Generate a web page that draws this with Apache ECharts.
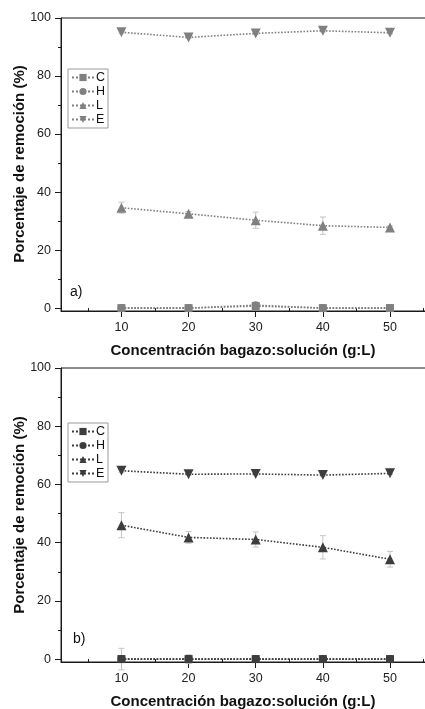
<!DOCTYPE html>
<html>
<head>
<meta charset="utf-8">
<script src="https://cdn.jsdelivr.net/npm/echarts@6/dist/echarts.min.js"></script>
<style>html,body{margin:0;padding:0;background:#fff}#c{width:425px;height:709px}</style>
</head>
<body>
<div id="c"></div>
<script>
const xVals = [10, 20, 30, 40, 50];
const yTicks = [0, 20, 40, 60, 80, 100];
const yMinor = [10, 30, 50, 70, 90];
const xTicks = [10, 20, 30, 40, 50];
const xMinor = [5, 15, 25, 35, 45, 55];
const yTitle = 'Porcentaje de remoción (%)';
const xTitle = 'Concentración bagazo:solución (g:L)';

// Panel a)
const aC = [0, 0, 0.7, 0, 0];
const aC_err = [0.2, 0.2, 0.5, 0.2, 0.2];
const aH = [0, 0, 1.0, 0, 0];
const aH_err = [0.2, 0.2, 0.5, 0.2, 0.2];
const aL = [34.6, 32.5, 30.3, 28.4, 27.8];
const aL_err = [1.9, 0.8, 2.8, 3.0, 0.6];
const aE = [95.1, 93.3, 94.7, 95.6, 94.9];
const aE_err = [0.4, 0.4, 0.4, 0.4, 0.3];

// Panel b)
const bC = [0, 0, 0, 0, 0];
const bC_err = [3.7, 1.5, 0.5, 0.6, 0.3];
const bH = [0, 0, 0, 0, 0];
const bH_err = [0.3, 0.3, 0.3, 0.3, 0.3];
const bL = [46.0, 41.8, 41.1, 38.4, 34.3];
const bL_err = [4.3, 2.0, 2.6, 4.0, 2.7];
const bE = [64.7, 63.5, 63.6, 63.2, 63.8];
const bE_err = [0.5, 0.4, 0.4, 0.4, 0.4];

const colA = '#808080';
const colB = '#3d3d3d';
const errCol = '#c4c4c4';
const axisCol = '#1a1a1a';
const font = 'Liberation Sans, Arial, sans-serif';

const symbols = {C: ['rect', 0, 8], H: ['circle', 0, 8], L: ['triangle', 0, 10], E: ['triangle', 180, 10]};

function pairs(v) { return xVals.map((x, i) => [x, v[i]]); }
function errData(v, e) { return xVals.map((x, i) => [x, v[i] - e[i], v[i] + e[i]]); }

function errSeries(gi, v, e) {
  return {
    type: 'custom', xAxisIndex: gi * 2, yAxisIndex: gi * 2, z: 1, clip: false, silent: true,
    data: errData(v, e),
    renderItem: function (params, api) {
      const x = api.value(0);
      const lo = api.coord([x, api.value(1)]);
      const hi = api.coord([x, api.value(2)]);
      const w = 3;
      const st = {stroke: errCol, lineWidth: 1};
      return {type: 'group', children: [
        {type: 'line', shape: {x1: lo[0], y1: lo[1], x2: hi[0], y2: hi[1]}, style: st},
        {type: 'line', shape: {x1: lo[0] - w, y1: lo[1], x2: lo[0] + w, y2: lo[1]}, style: st},
        {type: 'line', shape: {x1: hi[0] - w, y1: hi[1], x2: hi[0] + w, y2: hi[1]}, style: st}
      ]};
    }
  };
}

function lineSeries(gi, key, v, col) {
  const s = symbols[key];
  return {
    name: (gi === 0 ? 'a' : 'b') + key,
    type: 'line', xAxisIndex: gi * 2, yAxisIndex: gi * 2, z: 3,
    data: pairs(v), symbol: s[0], symbolRotate: s[1], symbolSize: s[2],
    showAllSymbol: true, clip: false,
    itemStyle: {color: col},
    lineStyle: {color: col, type: 'dotted', width: 1.6},
    emphasis: {disabled: true}
  };
}

function xAxes(gi) {
  return [{
    type: 'value', gridIndex: gi, min: 1, max: 57, position: 'bottom',
    splitLine: {show: false},
    axisLine: {show: true, onZero: false, lineStyle: {color: axisCol, width: 1}},
    axisTick: {show: true, customValues: xTicks, length: 6, lineStyle: {color: axisCol}},
    axisLabel: {customValues: xTicks, color: '#222', fontSize: 12.5, fontFamily: font, margin: 10},
    name: xTitle, nameLocation: 'middle', nameGap: 32,
    nameTextStyle: {fontSize: 15, fontWeight: 'bold', color: '#111', fontFamily: font, padding: [0, 12, 0, 0]}
  }, {
    type: 'value', gridIndex: gi, min: 1, max: 57, position: 'bottom',
    splitLine: {show: false}, axisLine: {show: false},
    axisTick: {show: true, customValues: xMinor, length: 3, lineStyle: {color: axisCol}},
    axisLabel: {show: false}
  }];
}

function yAxes(gi) {
  return [{
    type: 'value', gridIndex: gi, min: -1, max: 100, position: 'left',
    splitLine: {show: false},
    axisLine: {show: true, onZero: false, lineStyle: {color: axisCol, width: 1}},
    axisTick: {show: true, customValues: yTicks, length: 6, lineStyle: {color: axisCol}},
    axisLabel: {customValues: yTicks, color: '#222', fontSize: 12.5, fontFamily: font, margin: 10}
  }, {
    type: 'value', gridIndex: gi, min: -1, max: 100, position: 'left',
    splitLine: {show: false}, axisLine: {show: false},
    axisTick: {show: true, customValues: yMinor, length: 3, lineStyle: {color: axisCol}},
    axisLabel: {show: false}
  }];
}

function legend(gi, top) {
  const p = gi === 0 ? 'a' : 'b';
  return {
    orient: 'vertical', left: 68, top: top, padding: [2, 3, 2, 3], itemGap: 1,
    itemWidth: 22, itemHeight: 9,
    borderColor: '#9a9a9a', borderWidth: 1, selectedMode: false,
    data: ['C', 'H', 'L', 'E'].map(k => p + k),
    formatter: n => n.slice(1),
    textStyle: {fontSize: 12.5, color: '#111', fontFamily: font, padding: [0, 0, 0, -3]}
  };
}

function yTitleText(cy) {
  return {type: 'text', x: 20, y: cy, rotation: Math.PI / 2,
    style: {text: yTitle, fontSize: 15, fontWeight: 'bold', fill: '#111', fontFamily: font,
      align: 'center', verticalAlign: 'middle'}};
}

const chart = echarts.init(document.getElementById('c'), null, {renderer: 'canvas'});
chart.setOption({
  animation: false,
  backgroundColor: '#fff',
  grid: [
    {left: 61, top: 18, width: 376, height: 293, show: true, borderColor: axisCol, borderWidth: 1, containLabel: false, outerBoundsMode: 'none'},
    {left: 61, top: 368, width: 376, height: 294, show: true, borderColor: axisCol, borderWidth: 1, containLabel: false, outerBoundsMode: 'none'}
  ],
  xAxis: [...xAxes(0), ...xAxes(1)],
  yAxis: [...yAxes(0), ...yAxes(1)],
  legend: [legend(0, 69), legend(1, 423)],
  graphic: [
    {type: 'text', left: 70, top: 285, style: {text: 'a)', fontSize: 14, fill: '#111', fontFamily: font}},
    {type: 'text', left: 73, top: 632, style: {text: 'b)', fontSize: 14, fill: '#111', fontFamily: font}},
    yTitleText(164), yTitleText(515)
  ],
  series: [
    errSeries(0, aC, aC_err), errSeries(0, aH, aH_err), errSeries(0, aL, aL_err), errSeries(0, aE, aE_err),
    lineSeries(0, 'C', aC, colA), lineSeries(0, 'H', aH, colA), lineSeries(0, 'L', aL, colA), lineSeries(0, 'E', aE, colA),
    errSeries(1, bC, bC_err), errSeries(1, bH, bH_err), errSeries(1, bL, bL_err), errSeries(1, bE, bE_err),
    lineSeries(1, 'C', bC, colB), lineSeries(1, 'H', bH, colB), lineSeries(1, 'L', bL, colB), lineSeries(1, 'E', bE, colB)
  ]
});
</script>
</body>
</html>
